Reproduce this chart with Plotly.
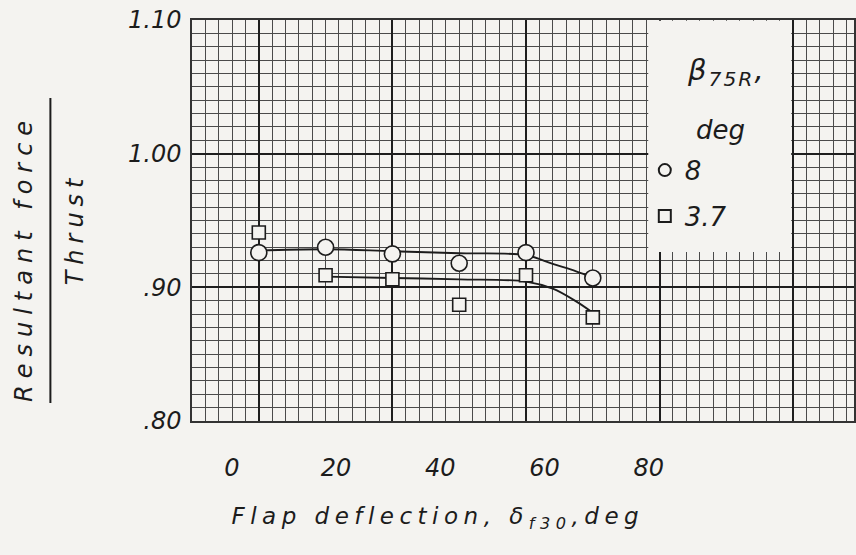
import plotly.graph_objects as go

# Measured points: flap deflection (deg) vs resultant force / thrust
flap_deflection = [0, 10, 20, 30, 40, 50]
ratio_beta_8 = [0.926, 0.930, 0.925, 0.918, 0.926, 0.907]
ratio_beta_3_7 = [0.941, 0.909, 0.906, 0.887, 0.909, 0.8775]

# Faired curves through each set of points
fair_x_beta_8 = [0, 10, 20, 30, 40, 44, 47.5, 50]
fair_y_beta_8 = [0.9275, 0.9285, 0.927, 0.9255, 0.924, 0.9175, 0.912, 0.9075]
fair_x_beta_3_7 = [10, 20, 30, 40, 44, 47.5, 50]
fair_y_beta_3_7 = [0.908, 0.907, 0.906, 0.9043, 0.899, 0.8895, 0.881]

# Axis labelling
x_tick_values = [0, 20, 40, 60, 80]
y_tick_values = [0.80, 0.90, 1.00, 1.10]
y_tick_text = [".80", ".90", "1.00", "1.10"]
legend_names = ["8", "3.7"]

PAPER = "#f4f3f0"
INK = "#1c1c1c"
FONT = dict(family="DejaVu Sans", style="italic", color=INK)

fig = go.Figure()

fig.add_trace(go.Scatter(
    x=fair_x_beta_8, y=fair_y_beta_8, mode="lines", line_shape="spline",
    line=dict(color=INK, width=1.8), showlegend=False, hoverinfo="skip"))
fig.add_trace(go.Scatter(
    x=fair_x_beta_3_7, y=fair_y_beta_3_7, mode="lines", line_shape="spline",
    line=dict(color=INK, width=1.8), showlegend=False, hoverinfo="skip"))

fig.add_trace(go.Scatter(
    x=flap_deflection, y=ratio_beta_8, mode="markers", name=legend_names[0],
    legendgroup="a",
    marker=dict(symbol="circle", size=16, color=PAPER,
                line=dict(color=INK, width=1.6))))
fig.add_trace(go.Scatter(
    x=flap_deflection, y=ratio_beta_3_7, mode="markers", name=legend_names[1],
    legendgroup="b",
    marker=dict(symbol="square", size=13, color=PAPER,
                line=dict(color=INK, width=1.6))))

# Empty trace that carries the labelled deflection scale
fig.add_trace(go.Scatter(
    x=x_tick_values, y=[None] * len(x_tick_values), xaxis="x2", yaxis="y",
    mode="markers", showlegend=False, hoverinfo="skip"))

# Blank panel that holds the key
fig.add_shape(type="rect", xref="x", yref="y", x0=58.3, x1=79.7, y0=0.9265, y1=1.0995,
              fillcolor=PAPER, line=dict(width=0), layer="above")

# Stacked y-axis title: numerator, bar, denominator
common = dict(xref="paper", yref="paper", showarrow=False,
              xanchor="center", yanchor="middle")
fig.add_annotation(text="Resultant force", x=-0.2545, y=0.4065, textangle=-90,
                   font=dict(size=24, **FONT), **common)
fig.add_annotation(text="Thrust", x=-0.1762, y=0.4813, textangle=-90,
                   font=dict(size=24, **FONT), **common)
fig.add_annotation(text="Flap deflection, δ<sub>f30</sub>,deg", x=0.372, y=-0.243,
                   font=dict(size=23, **FONT), **common)
fig.add_annotation(text="β<sub>75R</sub>,", x=0.807, y=0.870,
                   font=dict(size=29, **FONT), **common)
fig.add_annotation(text="deg", x=0.798, y=0.726,
                   font=dict(size=26, **FONT), **common)
fig.add_shape(type="line", xref="paper", yref="paper", x0=-0.2139, x1=-0.2139,
              y0=0.045, y1=0.8055, line=dict(color=INK, width=2))

fig.update_layout(
    width=856, height=555,
    margin=dict(l=192, r=0, t=20, b=134),
    paper_bgcolor=PAPER, plot_bgcolor=PAPER,
    showlegend=True,
    legend=dict(x=0.684, y=0.684, xanchor="left", yanchor="top",
                bgcolor="rgba(0,0,0,0)", borderwidth=0, itemsizing="constant",
                tracegroupgap=9, font=dict(size=26, **FONT)),
    xaxis=dict(range=[-10, 89.1], tickmode="linear", tick0=0, dtick=20,
               showticklabels=False, ticks="", showgrid=True,
               gridcolor="#1e1e1e", gridwidth=2.2, zeroline=False,
               showline=True, mirror=True, linecolor="#333333", linewidth=1.5,
               minor=dict(tickmode="linear", tick0=0, dtick=2, showgrid=True,
                          gridcolor="#4a4a4a", gridwidth=1)),
    xaxis2=dict(overlaying="x", anchor="y", side="bottom",
                range=[-7.66, 119.4], tickmode="array", tickvals=x_tick_values,
                ticktext=[str(v) for v in x_tick_values], showgrid=False,
                zeroline=False, showline=False, ticks="", ticklabelstandoff=30,
                tickfont=dict(size=24, **FONT)),
    yaxis=dict(range=[0.80, 1.10], tickmode="array", tickvals=y_tick_values,
               ticktext=y_tick_text, ticks="", showgrid=True,
               gridcolor="#1e1e1e", gridwidth=2.2, zeroline=False,
               showline=True, mirror=True, linecolor="#333333", linewidth=1.5,
               ticklabelstandoff=4, tickfont=dict(size=24, **FONT),
               minor=dict(tickmode="linear", tick0=0.80, dtick=0.01, showgrid=True,
                          gridcolor="#4a4a4a", gridwidth=1)),
)

# Hand-lettered look: widen the spacing of the lettering
spacing_css = (
    "g.annotation[data-index='0'] text{letter-spacing:7px}"
    "g.annotation[data-index='1'] text{letter-spacing:6px}"
    "g.annotation[data-index='2'] text{letter-spacing:5.5px}"
    "g.annotation[data-index='3'] text{letter-spacing:2px}"
    ".xtick text{letter-spacing:2px}"
)
post = ("var s=document.createElement('style');s.textContent=\"" + spacing_css +
        "\";document.head.appendChild(s);")

fig.write_html("out.html", post_script=post)
